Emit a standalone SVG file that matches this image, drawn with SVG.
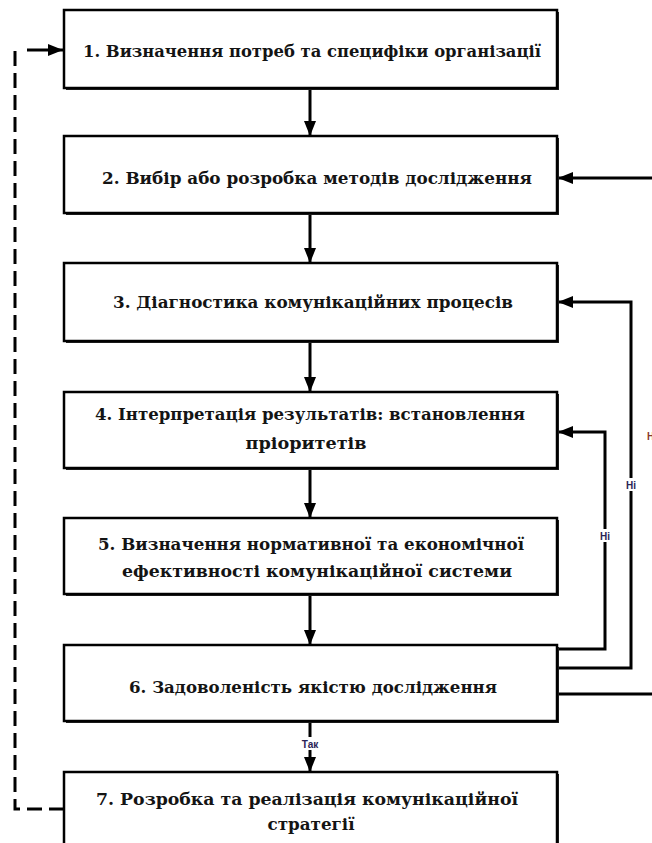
<svg xmlns="http://www.w3.org/2000/svg" width="652" height="843" viewBox="0 0 652 843">
  <defs>
    <marker id="ah" markerUnits="userSpaceOnUse" markerWidth="16" markerHeight="14" refX="15" refY="7" orient="auto">
      <path d="M0,1 L15,7 L0,13 Z" fill="#000"/>
    </marker>
    <style>
      .box { fill: #fff; stroke: #000; stroke-width: 2.5; }
      .shadow { fill: #222; }
      .t { font-family: "DejaVu Serif", "Liberation Serif", serif; font-weight: bold; font-size: 16px; fill: #141414; text-anchor: middle; }
      .c { fill: none; stroke: #000; stroke-width: 3; }
      .d { fill: none; stroke: #000; stroke-width: 3; stroke-dasharray: 15 7; }
      .lbl { font-family: "Liberation Sans", Arial, sans-serif; font-weight: bold; font-size: 10px; fill: #2a2456; text-anchor: middle; }
      .lb { fill: #fff; }
    </style>
  </defs>
  <rect width="652" height="843" fill="#fff"/>

  <g id="connectors">
    <line class="c" x1="310" y1="89" x2="310" y2="136" marker-end="url(#ah)"/>
    <line class="c" x1="310" y1="214" x2="310" y2="263" marker-end="url(#ah)"/>
    <line class="c" x1="310" y1="342" x2="310" y2="392" marker-end="url(#ah)"/>
    <line class="c" x1="310" y1="469" x2="310" y2="518" marker-end="url(#ah)"/>
    <line class="c" x1="310" y1="595" x2="310" y2="645" marker-end="url(#ah)"/>
    <line class="c" x1="310" y1="722" x2="310" y2="772" marker-end="url(#ah)"/>
    <path class="c" d="M557,649 H605 V432 H558" marker-end="url(#ah)"/>
    <path class="c" d="M557,668 H631 V302 H558" marker-end="url(#ah)"/>
    <path class="c" d="M557,694 H652"/>
    <path class="c" d="M652,178 H558" marker-end="url(#ah)"/>
    <path class="d" d="M64,809 H15 V50"/>
    <path class="c" d="M27,50 H63" marker-end="url(#ah)"/>
    <rect class="lb" x="622" y="478" width="18" height="13"/>
    <text class="lbl" x="631" y="489">Ні</text>
    <rect class="lb" x="596" y="529" width="18" height="13"/>
    <text class="lbl" x="605" y="540">Ні</text>
    <rect class="lb" x="297" y="737" width="26" height="13"/>
    <text class="lbl" x="310" y="748">Так</text>
    <text class="lbl" x="652" y="440" style="fill:#8a3a2a">Ні</text>
  </g>

  <g id="n1">
    <rect class="shadow" x="66" y="12" width="493" height="78"/>
    <rect class="box" x="64" y="10" width="493" height="78"/>
    <text class="t" x="312" y="57" textLength="458" lengthAdjust="spacingAndGlyphs">1. Визначення потреб та специфіки організації</text>
  </g>
  <g id="n2">
    <rect class="shadow" x="66" y="138" width="493" height="77"/>
    <rect class="box" x="64" y="136" width="493" height="77"/>
    <text class="t" x="317" y="184" textLength="430" lengthAdjust="spacingAndGlyphs">2. Вибір або розробка методів дослідження</text>
  </g>
  <g id="n3">
    <rect class="shadow" x="66" y="265" width="493" height="78"/>
    <rect class="box" x="64" y="263" width="493" height="78"/>
    <text class="t" x="313" y="308" textLength="400" lengthAdjust="spacingAndGlyphs">3. Діагностика комунікаційних процесів</text>
  </g>
  <g id="n4">
    <rect class="shadow" x="66" y="394" width="493" height="76"/>
    <rect class="box" x="64" y="392" width="493" height="76"/>
    <text class="t" x="310" y="420" textLength="430" lengthAdjust="spacingAndGlyphs">4. Інтерпретація результатів: встановлення</text>
    <text class="t" x="306" y="449" textLength="121" lengthAdjust="spacingAndGlyphs">пріоритетів</text>
  </g>
  <g id="n5">
    <rect class="shadow" x="66" y="520" width="493" height="76"/>
    <rect class="box" x="64" y="518" width="493" height="76"/>
    <text class="t" x="311" y="550" textLength="426" lengthAdjust="spacingAndGlyphs">5. Визначення нормативної та економічної</text>
    <text class="t" x="317" y="577" textLength="390" lengthAdjust="spacingAndGlyphs">ефективності комунікаційної системи</text>
  </g>
  <g id="n6">
    <rect class="shadow" x="66" y="647" width="493" height="76"/>
    <rect class="box" x="64" y="645" width="493" height="76"/>
    <text class="t" x="313" y="693" textLength="368" lengthAdjust="spacingAndGlyphs">6. Задоволеність якістю дослідження</text>
  </g>
  <g id="n7">
    <rect class="shadow" x="66" y="774" width="493" height="80"/>
    <rect class="box" x="64" y="772" width="493" height="80"/>
    <text class="t" x="307" y="805" textLength="422" lengthAdjust="spacingAndGlyphs">7. Розробка та реалізація комунікаційної</text>
    <text class="t" x="311" y="830" textLength="87" lengthAdjust="spacingAndGlyphs">стратегії</text>
  </g>
</svg>
